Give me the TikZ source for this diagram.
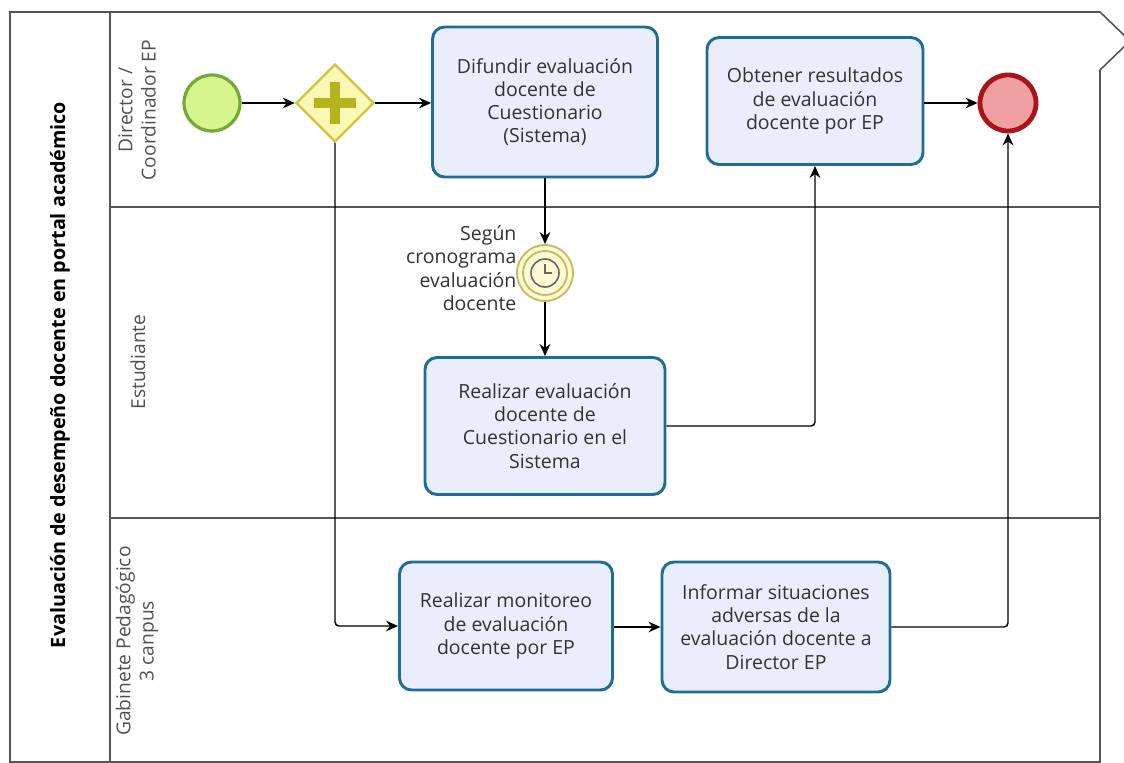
\documentclass[tikz,border=0pt]{standalone}
\usepackage{fontspec}
\setmainfont{Open Sans}
\usetikzlibrary{arrows.meta,shapes.geometric,calc}
\def\u{0.75pt}
\definecolor{taskfill}{RGB}{234,238,252}
\definecolor{taskdraw}{RGB}{32,108,148}
\definecolor{startfill}{RGB}{214,245,140}
\definecolor{startdraw}{RGB}{118,168,56}
\definecolor{endfill}{RGB}{240,160,160}
\definecolor{enddraw}{RGB}{168,20,28}
\definecolor{gwfill}{RGB}{250,248,180}
\definecolor{gwdraw}{RGB}{200,200,60}
\definecolor{gwplus}{RGB}{180,180,30}
\definecolor{timfill}{RGB}{252,250,210}
\definecolor{timdraw}{RGB}{196,188,100}
\definecolor{pooldraw}{RGB}{85,85,85}
\definecolor{txt}{RGB}{50,50,50}
\tikzset{
  task/.style={draw=taskdraw,fill=taskfill,line width=2.2pt,rounded corners=9pt,
    align=center,text=txt,inner sep=2pt,font=\fontsize{14.6}{17.4}\selectfont},
  flow/.style={draw=black,line width=1.1pt,-{Stealth[length=9pt,width=8pt]},rounded corners=3pt},
  lanetxt/.style={rotate=90,align=center,text=txt!85,font=\fontsize{14.4}{17.4}\selectfont},
  poolline/.style={draw=pooldraw,line width=1.2pt}
}
\begin{document}
\begin{tikzpicture}[x=0.75pt,y=-0.75pt]
\useasboundingbox (0,0) rectangle (1124,763);
\fill[white] (0,0) rectangle (1124,763);
% pool frame
\draw[poolline] (10,12) -- (1100,12) -- (1130,41) -- (1100,70) -- (1100,762) -- (10,762) -- cycle;
\draw[poolline] (110,12) -- (110,762);
\draw[poolline] (110,207) -- (1100,207);
\draw[poolline] (110,518) -- (1100,518);
% labels
\node[rotate=90,text=black,font=\fontsize{14.8}{17}\selectfont\bfseries] (pool) at (60,375) {Evaluación de desempeño docente en portal académico};
\node[lanetxt] (l1) at (137,110) {Director /\\Coordinador EP};
\node[lanetxt] (l2) at (138,362) {Estudiante};
\node[lanetxt] (l3) at (137,641) {Gabinete Pedagógico\\3 canpus};
% events and gateway
\node[circle,draw=startdraw,fill=startfill,line width=2.4pt,minimum size=56*\u,inner sep=0] (start) at (212,103) {};
\node[diamond,draw=gwdraw,fill=gwfill,line width=1.8pt,minimum width=78*\u,minimum height=78*\u,inner sep=0] (gw) at (335,103) {};
\fill[gwplus] ($(gw.center)+(-5,-21)$) rectangle ($(gw.center)+(5,21)$);
\fill[gwplus] ($(gw.center)+(-21,-5)$) rectangle ($(gw.center)+(21,5)$);
\node[circle,draw=enddraw,fill=endfill,line width=3.6pt,minimum size=56*\u,inner sep=0] (end) at (1008,103) {};
% timer
\node[circle,draw=timdraw,fill=timfill,line width=1.4pt,minimum size=56*\u,inner sep=0] (timer) at (545,273) {};
\draw[timdraw,line width=1.4pt] (timer.center) circle[radius=22];
\draw[gray!80!black,line width=1.2pt] (timer.center) circle[radius=14];
\draw[gray!80!black,line width=1.2pt] ($(timer.center)+(0,-9)$) -- (timer.center) -- ($(timer.center)+(7,0)$);
\node[anchor=east,align=right,text=txt,font=\fontsize{14.6}{17.6}\selectfont,inner sep=1pt] (tlabel) at (518,268) {Según\\cronograma\\evaluación\\docente};
% tasks
\node[task,minimum width=225*\u,minimum height=150*\u] (t1) at (545,102) {Difundir evaluación\\docente de\\Cuestionario\\(Sistema)};
\node[task,minimum width=216*\u,minimum height=127*\u] (t2) at (815,101) {Obtener resultados\\de evaluación\\docente por EP};
\node[task,minimum width=240*\u,minimum height=137*\u] (t3) at (545,426) {Realizar evaluación\\docente de\\Cuestionario en el\\Sistema};
\node[task,minimum width=213*\u,minimum height=128*\u] (t4) at (506,626) {Realizar monitoreo\\de evaluación\\docente por EP};
\node[task,minimum width=228*\u,minimum height=130*\u] (t5) at (776,627) {Informar situaciones\\adversas de la\\evaluación docente a\\Director EP};
% flows
\draw[flow] (start) -- (gw);
\draw[flow] (gw) -- (gw -| t1.west);
\draw[flow] (t1.south) -- (timer.north);
\draw[flow] (timer.south) -- (t3.north);
\draw[flow] (t3.east) -| (t2.south);
\draw[flow] (t2.east |- end) -- (end.west);
\draw[flow] (gw.south) |- (t4.west);
\draw[flow] (t4.east |- t5) -- (t5.west);
\draw[flow] (t5.east) -| (end.south);
\end{tikzpicture}
\end{document}
